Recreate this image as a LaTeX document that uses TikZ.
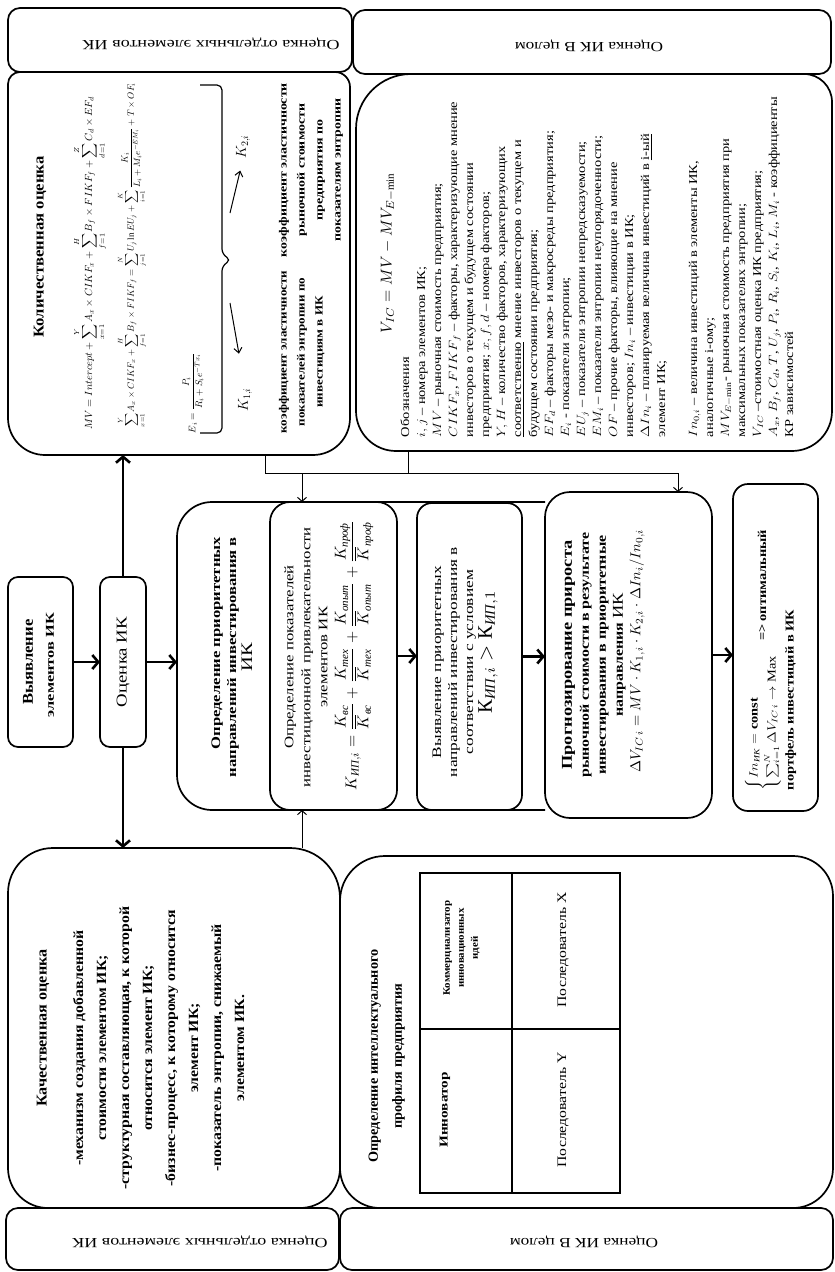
\documentclass[tikz,border=0pt]{standalone}
\usepackage{fontspec}
\setmainfont{Liberation Serif}
\usepackage{amsmath}
\usepackage{graphicx}
\usetikzlibrary{arrows.meta,fit}

\newcommand\fs[2]{\fontsize{#1}{#2}\selectfont}
\newcommand\sx[2]{\resizebox{#1pt}{\height}{#2}}
\newcommand\cy[1]{\text{\itshape #1}}
\newcommand\rbox[5]{\draw[boxline] (#1.west) [rounded corners=#2pt] -- (#1.north west) -- (#1.north) [rounded corners=#3pt] -- (#1.north east) -- (#1.east) [rounded corners=#4pt] -- (#1.south east) -- (#1.south) [rounded corners=#5pt] -- (#1.south west) -- cycle;}

\tikzset{
  boxline/.style={line width=1.7pt},
  frame/.style={inner sep=0pt, outer sep=0pt},
  rt/.style={rotate=90, inner sep=0pt, outer sep=0pt, align=center},
  ud/.style={rotate=180, inner sep=0pt, outer sep=0pt, align=center},
  bigarrow/.style={line width=2.6pt, -{Straight Barb[length=6pt,width=14pt,line width=2.6pt]}},
  thinarrow/.style={line width=1pt, -{Straight Barb[length=4pt,width=9pt,line width=1pt]}},
  midarrow/.style={line width=1pt, -{Straight Barb[length=5pt,width=8pt,line width=1pt]}},
  thinline/.style={line width=1pt},
  tabline/.style={line width=1.5pt},
}

\begin{document}
\begin{tikzpicture}[x=1pt,y=-1pt]
\useasboundingbox (0,0) rectangle (835,1272);
\fill[white] (0,0) rectangle (835,1272);

% ---------- frames (named boxes)
\node[frame, fit={(8,8) (352,72)}] (hdrL) {};
\node[frame, fit={(353,10) (831,74)}] (hdrR) {};
\node[frame, fit={(6,1208) (339,1270)}] (ftrL) {};
\node[frame, fit={(340,1208) (833,1270)}] (ftrR) {};
\node[frame, fit={(8,72) (350,455)}] (quant) {};
\node[frame, fit={(356,74) (832,451)}] (legend) {};
\node[frame, fit={(8,577) (73,747)}] (vyav) {};
\node[frame, fit={(100,577) (146,747)}] (ocen) {};
\node[frame, fit={(177,502) (545,810)}] (big) {};
\node[frame, fit={(270,502) (397,810)}] (inner) {};
\node[frame, fit={(417,503) (522,810)}] (vp) {};
\node[frame, fit={(545,492) (712,818)}] (prog) {};
\node[frame, fit={(733,484) (818,811)}] (fin) {};
\node[frame, fit={(8,848) (340,1208)}] (qual) {};
\node[frame, fit={(340,856) (833,1208)}] (prof) {};
\node[frame, fit={(420,873) (620,1193)}] (tab) {};

% ---------- outlines
\rbox{hdrL}{12}{12}{12}{12}
\rbox{hdrR}{12}{12}{12}{12}
\rbox{ftrL}{12}{12}{12}{12}
\rbox{ftrR}{12}{12}{12}{12}
\rbox{quant}{12}{15}{37}{37}
\rbox{legend}{55}{28}{40}{40}
\rbox{vyav}{10}{10}{10}{10}
\rbox{ocen}{10}{10}{10}{10}
\draw[boxline, rounded corners=35pt] (big.north east) -- (big.north west) -- (big.south west) -- (big.south east);
\rbox{inner}{20}{20}{20}{20}
\rbox{vp}{15}{15}{15}{15}
\rbox{prog}{25}{25}{25}{25}
\rbox{fin}{15}{15}{15}{15}
\rbox{qual}{45}{50}{40}{40}
\rbox{prof}{45}{40}{40}{40}
\draw[tabline] (tab.north west) rectangle (tab.south east);
\draw[tabline] (512,873) -- (512,1193);
\draw[tabline] (420,1029) -- (620,1029);

% ---------- header / footer texts
\node[ud] (hdrLt) at (211,44) {\sx{257}{\fs{14}{16}Оценка отдельных элементов ИК}};
\node[ud] (hdrRt) at (589,46) {\sx{148}{\fs{14}{16}Оценка ИК В целом}};
\node[ud] (ftrLt) at (200,1242) {\sx{255}{\fs{14}{16}Оценка отдельных элементов ИК}};
\node[ud] (ftrRt) at (584,1242) {\sx{148}{\fs{14}{16}Оценка ИК В целом}};

% ---------- quantitative box
\node[rt] (qt) at (40,247) {\sx{181}{\fs{15}{17}\bfseries Количественная оценка}};
\node[rt] (f1) at (90,263) {\resizebox{333pt}{!}{$\displaystyle MV = Intercept + \sum_{x=1}^{Y} A_x \times CIKF_x + \sum_{f=1}^{H} B_f \times FIKF_f + \sum_{d=1}^{Z} C_d \times EF_d$}};
\node[rt] (f2) at (132,255) {\resizebox{344pt}{!}{$\displaystyle \sum_{x=1}^{Y} A_x \times CIKF_x + \sum_{f=1}^{H} B_f \times FIKF_f = \sum_{j=1}^{N} U_j \ln EU_j + \sum_{i=1}^{K} \frac{K_i}{L_i + M_i e^{-EM_i}} + T \times OF_i$}};
\node[rt] (f3) at (193,393) {\resizebox{80pt}{!}{$\displaystyle E_i = \frac{P_i}{R_i + S_i e^{-Tx_i}}$}};
\draw[line width=1.2pt, rounded corners=5pt] (200,85) -- (222,85) -- (222,254) -- (231,260) -- (222,266) -- (222,433) -- (200,433);
\coordinate (b2) at (230,213);
\coordinate (b1) at (230,303);
\node[rt] (k2) at (243,147) {\fs{14}{16}$K_{2,i}$};
\node[rt] (k1) at (245,400) {\fs{14}{16}$K_{1,i}$};
\draw[midarrow, shorten >=12pt] (b2) -- (k2.west);
\draw[midarrow, shorten >=35pt] (b1) -- (k1.east);
\node[rt] (k1d) at (301,352) {\sx{163}{\fs{11}{18}\bfseries\begin{tabular}{@{}c@{}}коэффициент эластичности\\показателей энтропии по\\инвестициям в ИК\end{tabular}}};
\node[rt] (k2d) at (310,170) {\sx{174}{\fs{11}{18}\bfseries\begin{tabular}{@{}c@{}}коэффициент эластичности\\рыночной стоимости\\предприятия по\\показателям энтропии\end{tabular}}};

% ---------- legend box
\node[rt] (vic) at (388,253) {\resizebox{160pt}{!}{$V_{IC} = MV - MV_{E-\min}$}};
\node[rt, anchor=north west] (legt) at (398,437) {\sx{340}{\fs{12}{16}\begin{tabular}{@{}l@{}}
Обозначения\\
$i, j$ – номера элементов ИК;\\
$MV$ – рыночная стоимость предприятия;\\
$CIKF_x$, $FIKF_f$ – факторы, характеризующие мнение\\
инвесторов о текущем и будущем состоянии\\
предприятия; $x, f, d$ – номера факторов;\\
$Y, H$ – количество факторов, характеризующих\\
\underline{соответственно} мнение инвесторов о текущем и\\
будущем состоянии предприятия;\\
$EF_d$ – факторы мезо- и макросреды предприятия;\\
$E_i$ - показатели энтропии;\\
$EU_j$ – показатели энтропии непредсказуемости;\\
$EM_i$ – показатели энтропии неупорядоченности;\\
$OF$ – прочие факторы, влияющие на мнение\\
инвесторов; $In_i$ – инвестиции в ИК;\\
$\Delta In_i$ – планируемая величина инвестиций в \underline{i-ый}\\
элемент ИК;\\[16pt]
$In_{0,i}$ – величина инвестиций в элементы ИК,\\
аналогичные i-ому;\\
$MV_{E-\min}$- рыночная стоимость предприятия при\\
максимальных показателях энтропии;\\
$V_{IC}$ –стоимостная оценка ИК предприятия;\\
$A_x$, $B_f$, $C_d$, $T$, $U_j$, $P_i$, $R_i$, $S_i$, $K_i$, $L_i$, $M_i$ - коэффициенты\\
КР зависимостей
\end{tabular}}};

% ---------- left small boxes
\node[rt] (vyt1) at (28,662) {\sx{85}{\fs{15}{17}\bfseries Выявление}};
\node[rt] (vyt2) at (50,665) {\sx{104}{\fs{12}{14}\bfseries элементов ИК}};
\node[rt] (oct) at (123,662) {\sx{90}{\fs{15}{17}Оценка ИК}};

% ---------- big box and inner boxes
\node[rt] (bigt) at (233,657) {\sx{240}{\fs{13}{16}\bfseries\begin{tabular}{@{}r@{}}Определение приоритетных\\направлений инвестирования в\\\multicolumn{1}{@{}c@{}}{\mdseries\fs{16}{18}ИК}\end{tabular}}};
\node[rt] (innt) at (307,657) {\sx{260}{\fs{13}{17}\begin{tabular}{@{}c@{}}Определение показателей\\инвестиционной привлекательности\\элементов ИК\end{tabular}}};
\node[rt] (innf) at (354,655) {\resizebox{270pt}{!}{$K_{\cy{ИП},i} = \dfrac{K_{\cy{вс}}}{\overline{K}_{\cy{вс}}} + \dfrac{K_{\cy{тех}}}{\overline{K}_{\cy{тех}}} + \dfrac{K_{\cy{опыт}}}{\overline{K}_{\cy{опыт}}} + \dfrac{K_{\cy{проф}}}{\overline{K}_{\cy{проф}}}$}};
\node[rt] (vpt) at (454,662) {\sx{230}{\fs{13}{16}\begin{tabular}{@{}c@{}}Выявление приоритетных\\направлений инвестирования в\\соответствии с условием\end{tabular}}};
\node[rt] (vpf) at (488,652) {\resizebox{123pt}{!}{$\text{К}_{\cy{ИП},i} > \text{К}_{\cy{ИП},1}$}};

% ---------- forecast box
\node[rt] (progt) at (594,655) {\sx{245}{\fs{13}{17}\bfseries\begin{tabular}{@{}c@{}}{\fs{15}{17}Прогнозирование прироста}\\рыночной стоимости в результате\\инвестирования в приоритетные\\направления {\mdseries\fs{15}{17}ИК}\end{tabular}}};
\node[rt] (progf) at (637,651) {\resizebox{243pt}{!}{$\Delta V_{IC\,i} = MV \cdot K_{1,i} \cdot K_{2,i} \cdot \Delta In_i / In_{0,i}$}};

% ---------- final box
\node[rt] (fint) at (772,660) {\sx{260}{\fs{12}{18}\begin{tabular}{@{}l@{}}$\left\{\begin{array}{@{}l@{}} In_{\cy{ИК}} = \textbf{const}\\ \sum_{i=1}^{N}\Delta V_{IC\,i} \to \text{Max}\end{array}\right.$\quad\textbf{=>\,оптимальный}\\ \textbf{портфель инвестиций в ИК}\end{tabular}}};

% ---------- qualitative box
\node[rt] (qlt) at (43,1028) {\sx{157}{\fs{15}{17}\bfseries Качественная оценка}};
\node[rt] (qlb) at (159,1048) {\sx{283}{\fs{14}{23}\bfseries\begin{tabular}{@{}c@{}}-механизм создания добавленной\\стоимости элементом ИК;\\-структурная составляющая, к которой\\относится элемент ИК;\\-бизнес-процесс, к которому относится\\элемент ИК;\\-показатель энтропии, снижаемый\\элементом ИК.\end{tabular}}};

% ---------- profile box
\node[rt] (pt) at (385,1056) {\sx{213}{\fs{14}{24}\bfseries\begin{tabular}{@{}c@{}}Определение интеллектуального\\профиля предприятия\end{tabular}}};
\node[rt] (c11) at (445,1110) {\sx{75}{\fs{12}{14}\bfseries Инноватор}};
\node[rt] (c12) at (461,948) {\sx{95}{\fs{10}{14}\bfseries\begin{tabular}{@{}c@{}}Коммерциализатор\\инновационных\\идей\end{tabular}}};
\node[rt] (c21) at (563,1110) {\sx{115}{\fs{13}{15}Последователь Y}};
\node[rt] (c22) at (563,950) {\sx{115}{\fs{13}{15}Последователь X}};

% ---------- connectors
\draw[bigarrow] (vyav.east) -- (ocen.west);
\draw[bigarrow] (ocen.east) -- (ocen.east -| big.west);
\draw[bigarrow] (ocen.north) -- (ocen.north |- quant.south);
\draw[bigarrow] (ocen.south) -- (ocen.south |- qual.north);
\draw[bigarrow] (inner.east) -- (inner.east -| vp.west);
\draw[bigarrow] (vp.east) -- (vp.east -| prog.west);
\draw[bigarrow] (prog.east) -- (prog.east -| fin.west);

\coordinate (j1) at (265,473);
\coordinate (j2) at (408,473);
\coordinate (j3) at (302,473);
\coordinate (j4) at (678,473);
\draw[thinline] (j1 |- quant.south) -- (j1) -- (j4);
\draw[thinline] (j2 |- legend.south) -- (j2);
\draw[thinarrow] (j3) -- (j3 |- inner.north);
\draw[thinarrow] (j4) -- (j4 |- prog.north);
\draw[thinarrow] (j3 |- qual.north) -- (j3 |- inner.south);
\end{tikzpicture}
\end{document}
